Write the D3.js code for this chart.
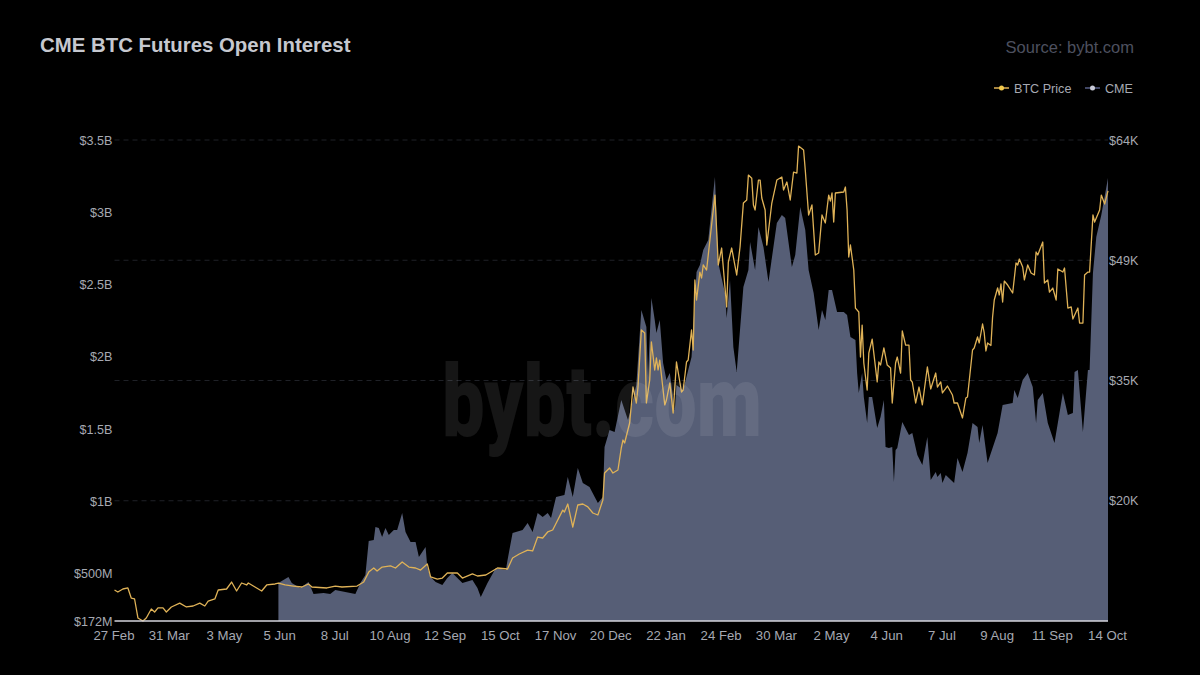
<!DOCTYPE html>
<html>
<head>
<meta charset="utf-8">
<style type="text/css">
html, body { margin: 0; padding: 0; background: #000; }
svg { display: block; font-family: "Liberation Sans", Arial, sans-serif; }
.axis path, .axis line { display: none; }
.axis text { fill: #a6a9b2; font-size: 12.6px; font-family: "Liberation Sans", Arial, sans-serif; }
.axis.bottom text { font-size: 13.2px; }
</style>
<title>CME BTC Futures Open Interest</title>
</head>
<body>
<div id="chart"></div>
<script src="https://d3js.org/d3.v7.min.js"></script>
<script>

// tick labels, one every 33 samples from 27 Feb 2020
const dateLabels = ["27 Feb","31 Mar","3 May","5 Jun","8 Jul","10 Aug","12 Sep","15 Oct","17 Nov","20 Dec","22 Jan","24 Feb","30 Mar","2 May","4 Jun","7 Jul","9 Aug","11 Sep","14 Oct"];
const oiTicks = [172,500,1000,1500,2000,2500,3000,3500];
const priceTicks = [19750,34500,49250,64000];

// BTC price: sample index and USD
const btcDay = [0,2,5,8,10,12,14,17,19,22,24,26,29,31,34,39,43,47,51,54,56,60,62,67,70,73,76,79,80,84,88,91,96,98,102,107,112,116,118,127,132,136,145,149,152,155,157,160,165,168,172,176,180,183,187,189,193,196,199,205,208,214,217,222,229,235,238,242,247,250,253,256,259,262,268,269,271,274,277,280,283,286,289,292,293,296,298,301,303,304,305,308,310,312,313,315,317,318,320,321,323,324,325,326,329,330,332,334,336,339,340,342,343,345,346,347,348,350,351,352,354,356,359,361,363,366,367,369,372,374,376,378,379,381,382,383,385,386,387,389,390,393,396,399,400,402,404,406,408,409,412,413,415,417,419,421,423,425,427,428,429,430,431,436,437,438,439,440,442,443,445,446,447,448,450,451,453,456,457,458,460,462,464,465,467,468,470,471,473,475,476,477,479,481,483,486,488,491,492,494,495,498,501,502,504,507,509,510,513,514,516,517,519,520,521,522,524,525,526,528,529,530,531,532,534,537,539,540,541,543,544,546,548,550,551,552,555,556,558,559,561,563,564,567,568,570,572,573,576,577,579,580,582,583,585,586,589,590,592,594];
const btcPrice = [8800,8560,8925,9050,7820,7700,5370,5000,5370,6470,6100,6600,6600,6100,6720,7200,6720,6840,7200,6840,7450,7700,8800,8925,9780,8680,9660,9420,9660,9170,8680,9420,9540,9660,9420,9290,9170,9540,9170,9050,9290,9170,9290,9780,11000,11500,11130,11620,11750,11500,12240,11620,11500,11250,12000,10400,10150,10270,10890,10890,10270,10770,10520,10640,11500,11380,12730,13220,13700,13590,15300,15180,15920,16160,18600,18370,19350,16530,19230,19350,19000,18250,18000,19840,23150,23770,23150,23520,26220,27200,26830,29290,33700,31740,33700,40700,40330,31740,34560,39220,35790,37260,35790,37010,31500,32100,34190,30510,36770,33090,33330,36770,37010,40700,38240,46830,44370,47800,47070,48670,48050,51730,57250,48670,50750,43520,49030,50750,47440,50870,56270,56640,59700,59300,56030,55410,59090,59090,56890,55410,51120,56270,59090,59460,57870,58850,56640,60070,59950,63260,62770,60320,54800,56030,49890,50140,54800,53820,57250,56500,57500,53940,57500,57620,58230,55410,49650,51120,48050,43370,42900,37380,41300,36650,33330,37870,39580,34320,36770,36400,38490,36400,36030,31740,36650,37380,35420,40570,38850,38850,34560,34300,31740,33700,31500,36160,33460,35420,33700,34320,32970,33820,32720,31740,31740,29900,32350,32480,38240,38490,39840,39100,41430,40330,38120,39100,38800,42290,44370,45850,44990,46340,44130,46700,46210,45230,48910,48670,49400,48420,46830,48670,47690,47440,50260,49890,51490,46460,46830,45350,45840,44370,48180,47800,48300,43390,43520,42040,43390,41550,41550,47440,47800,47800,54800,53940,55410,57250,56150,57750];

// CME open interest in USD millions, only reported from 5 Jun on
const cmeDay = [98,101,104,106,111,116,119,125,129,132,138,144,147,150,152,155,156,158,160,162,164,167,169,172,174,177,180,182,186,187,189,192,196,199,202,208,214,217,219,223,228,234,235,238,244,247,250,253,256,259,261,264,269,271,274,277,280,284,289,292,293,296,299,303,307,309,312,315,318,319,321,323,324,326,328,330,332,335,336,340,345,348,350,352,355,359,361,365,366,368,370,372,376,379,380,383,385,388,391,396,399,401,405,407,410,413,415,418,421,423,425,427,429,432,436,438,440,443,444,445,447,448,450,451,453,456,458,460,461,463,465,466,467,468,471,475,477,480,483,486,488,491,492,494,495,497,502,504,507,510,513,516,517,519,522,528,531,537,538,540,543,546,549,551,552,555,558,562,565,567,570,573,574,576,579,582,583,585,587,590,594];
const cmeOi = [435,456,476,435,400,442,359,366,359,386,373,359,435,490,726,732,822,815,753,815,767,802,802,919,788,719,719,615,684,546,476,442,421,470,504,435,456,400,338,435,539,525,594,781,802,850,788,919,892,919,885,1030,1044,1168,1030,1231,1127,1099,988,1030,1376,1494,1480,1701,1563,1653,1805,2324,2206,1860,2407,2255,2165,2255,1957,1839,1888,1632,1805,1770,1999,2587,2635,2739,2808,3244,2649,2441,2268,2531,2068,1895,2483,2600,2794,2600,2898,2760,2518,2926,2981,2960,2621,2704,3036,2877,2600,2441,2185,2324,2255,2462,2462,2310,2310,2289,2137,2116,1888,1750,1888,1722,1542,1722,1722,1507,1583,1701,1376,1369,1376,1134,1355,1369,1549,1459,1473,1321,1251,1445,1148,1203,1168,1196,1127,1182,1127,1300,1203,1334,1542,1514,1404,1528,1265,1473,1667,1680,1770,1715,1839,1888,1791,1542,1701,1750,1542,1404,1611,1750,1597,1611,1895,1909,1480,1909,1909,2580,2829,2981,3237];

const lineColor = "#dfb257", areaColor = "#565e76";

// margin & svg set up
const margin = {top: 140, right: 92, bottom: 54, left: 114.5},
    width = 1200 - margin.left - margin.right,
    height = 675 - margin.top - margin.bottom;

const root = d3.select("#chart")
  .append("svg")
    .attr("width", 1200)
    .attr("height", 675);

const svg = root.append("g")
    .attr("transform", `translate(${margin.left},${margin.top})`);

const x = d3.scaleLinear().domain([0, 594]).range([0, width]);
const yOi = d3.scaleLinear().domain([172, 3500]).range([height, 0]);
const yPrice = d3.scaleLinear().domain([5000, 64000]).range([height, 0]);

// dashed grid follows the price axis
svg.append("g")
  .selectAll("line")
  .data(priceTicks)
  .join("line")
    .attr("x1", 0)
    .attr("x2", width)
    .attr("y1", d => yPrice(d))
    .attr("y2", d => yPrice(d))
    .attr("stroke", "#1f2127")
    .attr("stroke-width", 1)
    .attr("stroke-dasharray", "5,4");

// open interest area
const cmeData = cmeDay.map((d, i) => [d, cmeOi[i]]);
svg.append("path")
    .datum(cmeData)
    .attr("fill", areaColor)
    .attr("d", d3.area().x(d => x(d[0])).y0(height).y1(d => yOi(d[1])));

// watermark sits over the area but under the price line
root.append("text")
    .attr("x", 602)
    .attr("y", 436)
    .attr("text-anchor", "middle")
    .attr("font-family", "Roboto, sans-serif")
    .attr("font-weight", 900)
    .attr("font-size", 100)
    .attr("textLength", 320)
    .attr("lengthAdjust", "spacingAndGlyphs")
    .attr("fill", "#fff")
    .attr("fill-opacity", 0.085)
    .text("bybt.com");

// price line
const btcData = btcDay.map((d, i) => [d, btcPrice[i]]);
svg.append("path")
    .datum(btcData)
    .attr("fill", "none")
    .attr("stroke", lineColor)
    .attr("stroke-width", 1.3)
    .attr("stroke-linejoin", "round")
    .attr("d", d3.line().x(d => x(d[0])).y(d => yPrice(d[1])));

// baseline
svg.append("line")
    .attr("x1", 0)
    .attr("x2", width)
    .attr("y1", height)
    .attr("y2", height)
    .attr("stroke", "#d4d5dc")
    .attr("stroke-width", 1.5);

// axes
svg.append("g")
    .attr("class", "axis bottom")
    .attr("transform", `translate(-1,${height})`)
    .call(d3.axisBottom(x)
      .tickValues(dateLabels.map((d, i) => i * 33))
      .tickFormat((d, i) => dateLabels[i])
      .tickSize(0)
      .tickPadding(10));

svg.append("g")
    .attr("class", "axis")
    .call(d3.axisLeft(yOi)
      .tickValues(oiTicks)
      .tickFormat(d => d < 1000 ? `$${d}M` : `$${d / 1000}B`)
      .tickSize(0)
      .tickPadding(2));

svg.append("g")
    .attr("class", "axis")
    .attr("transform", `translate(${width},0)`)
    .call(d3.axisRight(yPrice)
      .tickValues(priceTicks)
      .tickFormat(d => `$${Math.round(d / 1000)}K`)
      .tickSize(0)
      .tickPadding(1));

// title and source
root.append("text")
    .attr("x", 40)
    .attr("y", 52)
    .attr("font-size", 20.4)
    .attr("font-weight", 700)
    .attr("fill", "#c6c8cf")
    .text("CME BTC Futures Open Interest");

root.append("text")
    .attr("x", 1134)
    .attr("y", 53)
    .attr("text-anchor", "end")
    .attr("font-size", 16.5)
    .attr("fill", "#4d505f")
    .text("Source: bybt.com");

// legend
const legend = root.append("g")
  .selectAll("g")
  .data([{name: "BTC Price", color: lineColor, at: 994}, {name: "CME", color: "#565e86", at: 1085}])
  .join("g")
    .attr("transform", d => `translate(${d.at},88)`);

legend.append("line")
    .attr("x2", 15)
    .attr("stroke", d => d.color)
    .attr("stroke-width", 1.5);

legend.append("circle")
    .attr("cx", 7.5)
    .attr("r", 2.5)
    .attr("fill", d => d.name == "CME" ? "#c9cbd8" : "#f2c94c");

legend.append("text")
    .attr("x", 20)
    .attr("y", 4.5)
    .attr("font-size", 12.6)
    .attr("fill", "#a6a9b2")
    .text(d => d.name);

</script>
</body>
</html>
